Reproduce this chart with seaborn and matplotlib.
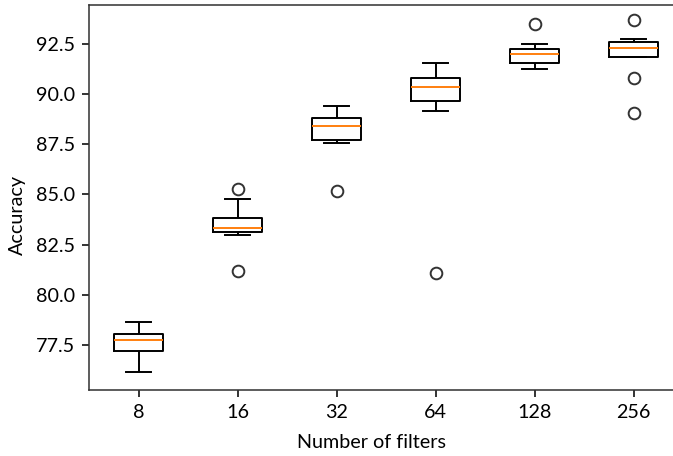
import matplotlib
matplotlib.use("Agg")
import matplotlib.pyplot as plt
import seaborn as sns
import pandas as pd

plt.rcParams['font.family'] = ['Lato', 'DejaVu Sans']
plt.rcParams['font.size'] = 10.2

filters = ["8", "16", "32", "64", "128", "256"]
acc_8 = [76.16, 77.22, 77.75, 78.04, 78.63]
acc_16 = [81.19, 82.98, 83.15, 83.24, 83.32, 83.55, 83.81, 84.77, 85.26]
acc_32 = [85.19, 87.55, 87.72, 88.10, 88.43, 88.60, 88.80, 89.10, 89.41]
acc_64 = [81.11, 89.15, 89.67, 90.00, 90.37, 90.60, 90.82, 91.20, 91.54]
acc_128 = [91.25, 91.40, 91.54, 91.80, 91.99, 92.10, 92.23, 92.50, 93.48]
acc_256 = [89.05, 90.78, 91.87, 92.10, 92.30, 92.45, 92.58, 92.75, 93.68]

groups = [acc_8, acc_16, acc_32, acc_64, acc_128, acc_256]
rows = []
for f, vals in zip(filters, groups):
    for v in vals:
        rows.append({"filters": f, "accuracy": v})
df = pd.DataFrame(rows)

dpi = 140
fig = plt.figure(figsize=(673 / dpi, 456 / dpi), dpi=dpi)
ax = fig.add_axes([89 / 673, 66 / 456, 594 / 673, 385 / 456])

sns.boxplot(data=df, x="filters", y="accuracy", order=filters, ax=ax,
            width=0.5, fill=False, color="black", linewidth=1, whis=1.5,
            medianprops={"color": "#ff7f0e"},
            flierprops={"marker": "o", "markersize": 6,
                        "markeredgecolor": "#333333", "markerfacecolor": "none"})

ax.set_xlim(-0.5, 5.5)
ax.set_ylim(75.26, 94.44)
ax.set_xlabel("Number of filters")
ax.set_ylabel("Accuracy")
ax.xaxis.set_label_coords(0.475, -0.113)
ax.yaxis.set_label_coords(-0.106, 0.455)
for s in ax.spines.values():
    s.set_color("#333333")

fig.savefig("out.png", dpi=dpi)
